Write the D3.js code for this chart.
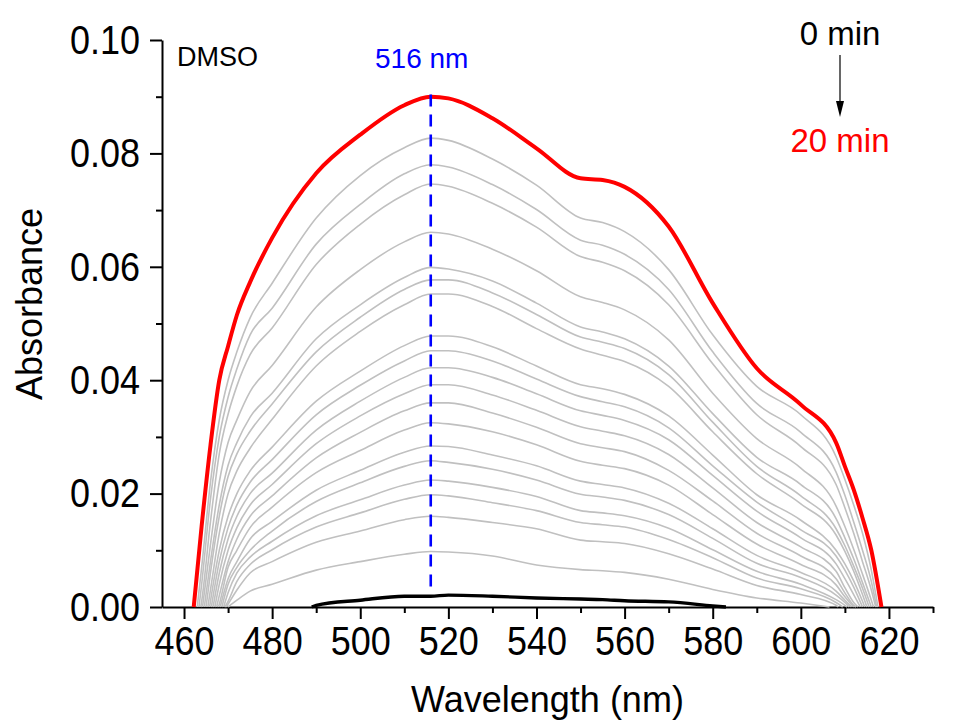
<!DOCTYPE html>
<html>
<head>
<meta charset="utf-8">
<script src="https://cdn.jsdelivr.net/npm/d3@7/dist/d3.min.js"></script>
<style>
  html, body { margin: 0; padding: 0; background: #fff; }
  svg { display: block; font-family: Arial, "Liberation Sans", Helvetica, sans-serif; }
</style>
</head>
<body>
<svg id="chart" width="958" height="725"></svg>
<script>
// Spectra recorded every minute from 0 to 20 min (DMSO)
const minutes = [0, 1, 2, 3, 4, 5, 6, 7, 8, 9, 10, 11, 12, 13, 14, 15, 16, 17, 18, 19, 20];

// Sampling wavelengths (nm) shared by all spectra
const wavelengths = [464, 466, 468, 470, 472, 475, 480, 490, 500, 510, 516, 520, 530, 540,
                     550, 555, 560, 570, 580, 590, 600, 608, 610, 612, 614, 616];

// Wavelength where each spectrum leaves / returns to zero absorbance
const onsetNm  = [489, 470.0, 469.6, 469.3, 469.0, 468.6, 468.2, 467.8, 467.4, 467.0, 466.6,
                  466.2, 465.8, 465.4, 465.0, 464.6, 464.2, 463.8, 463.4, 463.0, 462.2];
const cutoffNm = [583, 606.5, 608.5, 609.5, 610.5, 611.0, 611.5, 612.0, 612.5, 613.0, 613.5,
                  614.0, 614.5, 615.0, 615.5, 616.0, 616.5, 617.0, 617.2, 617.5, 618.3];

// Absorbance of each spectrum at the sampling wavelengths (null = outside the band)
const absorbance = [
  // 0 min
  [null, null, null, null, null, null, null, .0003, .0012, .0019, .0019, .0021, .0019, .0016,
   .0014, .0013, .0011, .0009, .0002, null, null, null, null, null, null, null],
  // 1 min
  [null, null, null, null, .0012, .0028, .0040, .0065, .0080, .0093, .0098, .0097, .0090, .0074,
   .0066, .0064, .0061, .0049, .0031, .0016, .0007, null, null, null, null, null],
  // 2 min
  [null, null, null, .0005, .0030, .0060, .0080, .0114, .0134, .0154, .0160, .0158, .0149, .0138,
   .0118, .0115, .0112, .0094, .0067, .0038, .0022, .0003, null, null, null, null],
  // 3 min
  [null, null, null, .0010, .0045, .0075, .0101, .0141, .0166, .0190, .0198, .0196, .0184, .0170,
   .0149, .0145, .0141, .0119, .0087, .0051, .0032, .0008, null, null, null, null],
  // 4 min
  [null, null, null, .0025, .0060, .0088, .0116, .0161, .0189, .0215, .0224, .0222, .0211, .0195,
   .0170, .0166, .0161, .0139, .0101, .0063, .0040, .0013, .0003, null, null, null],
  // 5 min
  [null, null, null, .0040, .0070, .0100, .0134, .0186, .0219, .0248, .0258, .0255, .0243, .0224,
   .0199, .0194, .0188, .0163, .0121, .0077, .0052, .0021, .0008, null, null, null],
  // 6 min
  [null, null, null, .0050, .0080, .0120, .0151, .0206, .0241, .0273, .0284, .0283, .0268, .0249,
   .0222, .0216, .0210, .0183, .0138, .0091, .0061, .0028, .0012, null, null, null],
  // 7 min
  [null, null, .0005, .0070, .0100, .0140, .0176, .0237, .0276, .0312, .0325, .0323, .0309, .0286,
   .0257, .0250, .0244, .0215, .0163, .0111, .0075, .0039, .0018, null, null, null],
  // 8 min
  [null, null, .0020, .0080, .0120, .0160, .0196, .0263, .0308, .0346, .0360, .0360, .0342, .0317,
   .0288, .0281, .0274, .0241, .0187, .0130, .0090, .0050, .0025, .0003, null, null],
  // 9 min
  [null, null, .0040, .0100, .0140, .0180, .0216, .0288, .0337, .0376, .0392, .0392, .0374, .0347,
   .0318, .0310, .0302, .0269, .0210, .0149, .0106, .0063, .0034, .0008, null, null],
  // 10 min
  [null, null, .0060, .0120, .0160, .0200, .0236, .0312, .0363, .0405, .0422, .0422, .0405, .0376,
   .0346, .0338, .0329, .0295, .0232, .0169, .0122, .0076, .0050, .0022, null, null],
  // 11 min
  [null, null, .0080, .0140, .0180, .0220, .0260, .0339, .0391, .0434, .0452, .0452, .0434, .0402,
   .0371, .0362, .0353, .0316, .0249, .0185, .0136, .0090, .0065, .0035, null, null],
  // 12 min
  [null, .0010, .0100, .0160, .0200, .0240, .0282, .0363, .0416, .0461, .0478, .0478, .0459, .0425,
   .0392, .0385, .0375, .0337, .0268, .0198, .0153, .0100, .0076, .0046, .0010, null],
  // 13 min
  [null, .0030, .0130, .0200, .0240, .0280, .0331, .0425, .0486, .0533, .0552, .0552, .0530, .0491,
   .0455, .0444, .0433, .0389, .0309, .0235, .0182, .0127, .0098, .0063, .0022, null],
  // 14 min
  [null, .0060, .0160, .0230, .0270, .0310, .0358, .0450, .0511, .0560, .0577, .0577, .0554, .0516,
   .0476, .0467, .0456, .0410, .0326, .0248, .0196, .0138, .0108, .0072, .0033, null],
  // 15 min
  [null, .0080, .0180, .0250, .0290, .0335, .0377, .0473, .0533, .0581, .0599, .0596, .0575, .0536,
   .0494, .0485, .0473, .0425, .0341, .0264, .0216, .0156, .0122, .0085, .0043, null],
  // 16 min
  [null, .0110, .0220, .0290, .0330, .0380, .0426, .0529, .0595, .0644, .0661, .0658, .0631, .0593,
   .0547, .0537, .0524, .0471, .0377, .0297, .0245, .0178, .0142, .0102, .0058, .0012],
  // 17 min
  [.0010, .0150, .0270, .0340, .0390, .0445, .0492, .0604, .0675, .0727, .0746, .0742, .0712, .0670,
   .0618, .0608, .0593, .0533, .0429, .0339, .0283, .0216, .0175, .0130, .0080, .0030],
  // 18 min
  [.0040, .0190, .0300, .0370, .0420, .0480, .0527, .0640, .0710, .0764, .0780, .0776, .0745, .0701,
   .0647, .0638, .0622, .0560, .0450, .0359, .0308, .0238, .0197, .0150, .0100, .0045],
  // 19 min
  [.0070, .0220, .0330, .0400, .0450, .0510, .0571, .0686, .0761, .0810, .0827, .0823, .0790, .0744,
   .0686, .0678, .0662, .0595, .0480, .0389, .0339, .0265, .0225, .0180, .0130, .0065],
  // 20 min
  [.0143, .0285, .0400, .0460, .0515, .0573, .0651, .0765, .0833, .0885, .0900, .0897, .0862, .0809,
   .0756, .0753, .0741, .0671, .0536, .0421, .0357, .0290, .0248, .0207, .0157, .0100]
];

// Axis ticks
const xMajorTicks = [460, 480, 500, 520, 540, 560, 580, 600, 620];
const xMinorTicks = [470, 490, 510, 530, 550, 570, 590, 610, 630];
const yMajorTicks = [0.00, 0.02, 0.04, 0.06, 0.08, 0.10];
const yMinorTicks = [0.01, 0.03, 0.05, 0.07, 0.09];

// Band maximum marked on the plot
const peakNm = 516;

const svg = d3.select("#chart");
const x = d3.scaleLinear().domain([455, 630]).range([162, 933]);
const y = d3.scaleLinear().domain([0, 0.10]).range([607, 40]);

// ---- axes ----
const axisColor = "#000";
const gx = svg.append("g").attr("transform", `translate(0,${y(0)})`);
gx.call(d3.axisBottom(x).tickValues(xMajorTicks).tickSize(12).tickSizeOuter(0)
          .tickPadding(4).tickFormat(d3.format("d")));
gx.append("g").call(d3.axisBottom(x).tickValues(xMinorTicks).tickSize(6).tickSizeOuter(0)
          .tickFormat(""))
  .select(".domain").remove();

const gy = svg.append("g").attr("transform", `translate(${x(455)},0)`);
gy.call(d3.axisLeft(y).tickValues(yMajorTicks).tickSize(12).tickSizeOuter(0)
          .tickPadding(10).tickFormat(d3.format(".2f")));
gy.append("g").call(d3.axisLeft(y).tickValues(yMinorTicks).tickSize(6).tickSizeOuter(0)
          .tickFormat(""))
  .select(".domain").remove();

svg.selectAll(".domain, .tick line").attr("stroke", axisColor).attr("stroke-width", 2);
// tick numbers use a slightly tall digit face
svg.selectAll(".tick text").attr("fill", "#000").attr("font-size", 36)
   .attr("font-family", "Arial, 'Liberation Sans', sans-serif")
   .attr("transform", "scale(1,1.15)");

// axis titles
svg.append("text").attr("x", (x.range()[0] + x.range()[1]) / 2).attr("y", 712)
   .attr("text-anchor", "middle").attr("font-size", 36).text("Wavelength (nm)");
svg.append("text").attr("transform", "translate(42,304) rotate(-90)")
   .attr("text-anchor", "middle").attr("font-size", 36).text("Absorbance");

// ---- spectra ----
function spectrumPoints(i) {
  const pts = [[onsetNm[i], 0]];
  wavelengths.forEach((nm, j) => {
    const v = absorbance[i][j];
    if (v !== null && nm > onsetNm[i] && nm < cutoffNm[i]) pts.push([nm, v]);
  });
  pts.push([cutoffNm[i], 0]);
  return pts;
}

const line = d3.line().curve(d3.curveMonotoneX).x(d => x(d[0])).y(d => y(d[1]));
const last = minutes.length - 1;

const plot = svg.append("g").attr("fill", "none")
  .attr("stroke-linejoin", "round").attr("stroke-linecap", "butt");

// intermediate spectra in grey
plot.selectAll("path.mid")
  .data(minutes.slice(1, last).map((m, k) => k + 1))
  .join("path")
  .attr("class", "mid")
  .attr("d", i => line(spectrumPoints(i)))
  .attr("stroke", "#c0c0c0")
  .attr("stroke-width", 1.6);

// first spectrum (0 min)
plot.append("path").attr("d", line(spectrumPoints(0)))
  .attr("stroke", "#000").attr("stroke-width", 3.4);

// last spectrum (20 min)
plot.append("path").attr("d", line(spectrumPoints(last)))
  .attr("stroke", "#ff0000").attr("stroke-width", 4);

// band maximum marker
svg.append("line")
  .attr("x1", x(peakNm)).attr("x2", x(peakNm))
  .attr("y1", y(0.0036)).attr("y2", y(0.0915))
  .attr("stroke", "#0000ff").attr("stroke-width", 2.6)
  .attr("stroke-dasharray", "12,8");
svg.append("text").attr("x", x(peakNm) - 9).attr("y", 68)
   .attr("text-anchor", "middle").attr("font-size", 28).attr("fill", "#0000ff")
   .text(`${peakNm} nm`);

// solvent label
svg.append("text").attr("x", 177).attr("y", 66)
   .attr("font-size", 27).attr("fill", "#000").text("DMSO");

// time direction annotation
svg.append("text").attr("x", 840).attr("y", 45)
   .attr("text-anchor", "middle").attr("font-size", 33).attr("fill", "#000")
   .text(`${minutes[0]} min`);
svg.append("line").attr("x1", 840).attr("x2", 840).attr("y1", 55).attr("y2", 103)
   .attr("stroke", "#000").attr("stroke-width", 1.2);
svg.append("path").attr("d", "M836,101 L844,101 L840,117 Z").attr("fill", "#000");
svg.append("text").attr("x", 840).attr("y", 152)
   .attr("text-anchor", "middle").attr("font-size", 33).attr("fill", "#ff0000")
   .text(`${minutes[last]} min`);
</script>
</body>
</html>
